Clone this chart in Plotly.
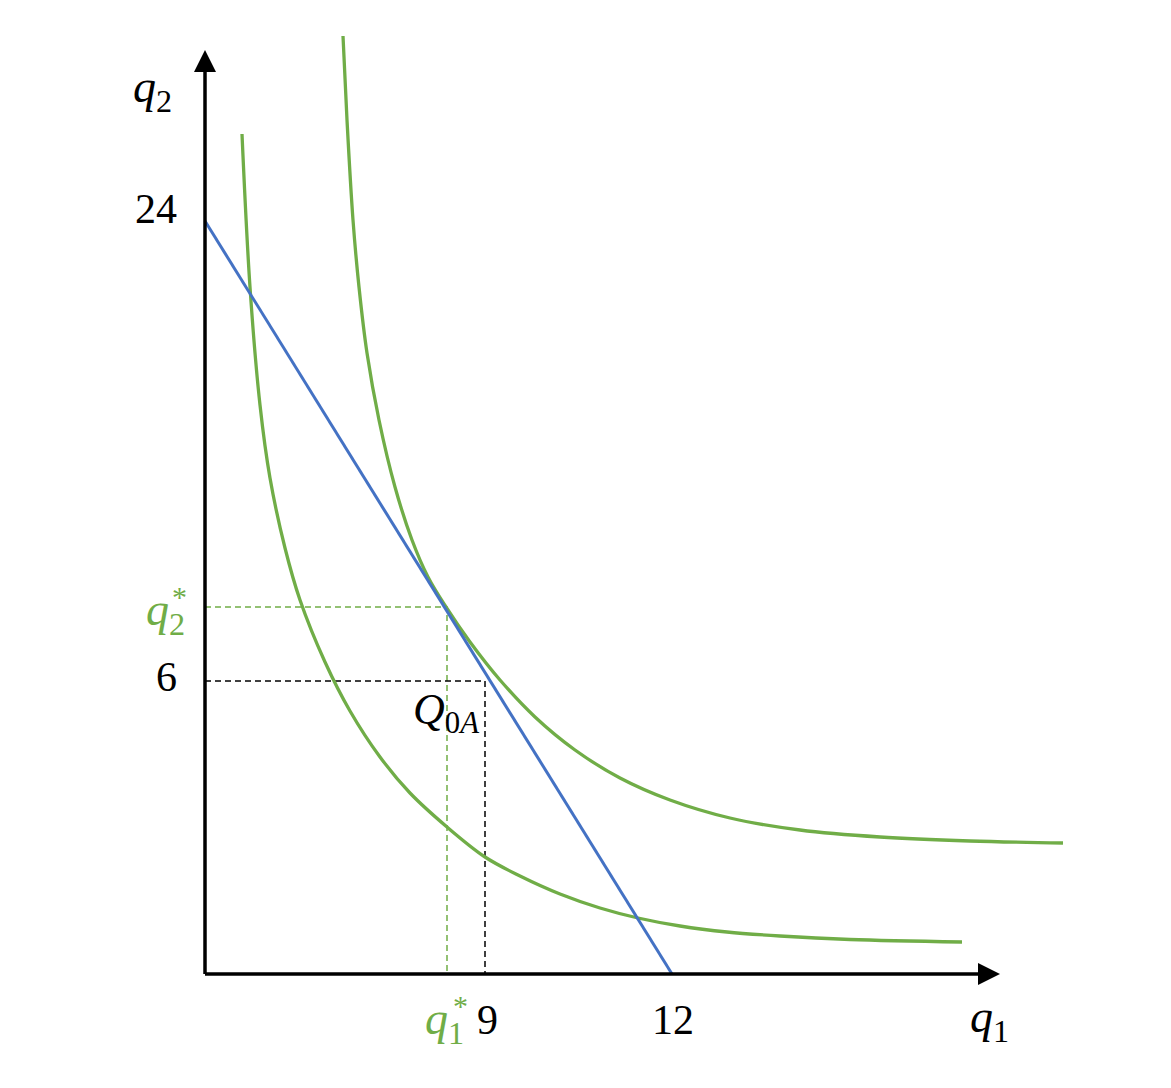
import plotly.graph_objects as go

# ---- data (diagram units: schematic, origin at the axes corner) ----
budget_q1 = [0, 467]
budget_q2 = [753, 0]

inner_q1 = [37, 45, 55, 65, 80, 95, 120, 145, 175, 205, 242, 280, 315, 355, 395, 433, 475, 522, 575, 645, 757]
inner_q2 = [840, 687, 569, 496, 426, 374, 312, 263, 217, 181, 147, 117, 98, 80, 66, 56, 48, 42, 38, 34.5, 32]

outer_q1 = [138, 142, 148, 154, 162, 174, 190, 207, 223, 241, 265, 295, 330, 370, 415, 465, 525, 595, 675, 765, 858]
outer_q2 = [938, 854, 754, 687, 621, 554, 487, 434, 397, 367, 332, 294, 257, 224, 196, 174, 156, 144, 137, 133, 131]

opt_q1, opt_q2 = 242, 367      # tangency point (q1*, q2*)
q0a_q1, q0a_q2 = 280, 293      # Q0A = (9, 6)

x_tick_vals = [280, 467]
x_tick_text = ["9", "12"]
y_tick_vals = [753, 293]
y_tick_text = ["24", "6"]

x_axis_end = 795
y_axis_end = 924

GREEN = "#70AD47"
BLUE = "#4472C4"
FONT = "Liberation Serif"

W, H = 1163, 1080          # page has an 8px body margin
ORIGIN_X, ORIGIN_Y = 197, 966

fig = go.Figure()

# dashed guide lines
fig.add_trace(go.Scatter(x=[0, opt_q1, opt_q1], y=[opt_q2, opt_q2, 0], mode="lines",
                         line=dict(color=GREEN, width=1.5, dash="6px,4px"), hoverinfo="skip"))
fig.add_trace(go.Scatter(x=[0, q0a_q1, q0a_q1], y=[q0a_q2, q0a_q2, 0], mode="lines",
                         line=dict(color="black", width=1.5, dash="6px,4px"), hoverinfo="skip"))

# indifference curves
fig.add_trace(go.Scatter(x=inner_q1, y=inner_q2, mode="lines",
                         line=dict(color=GREEN, width=3.3, shape="spline", smoothing=1.0), hoverinfo="skip"))
fig.add_trace(go.Scatter(x=outer_q1, y=outer_q2, mode="lines",
                         line=dict(color=GREEN, width=3.3, shape="spline", smoothing=1.0), hoverinfo="skip"))
# budget line
fig.add_trace(go.Scatter(x=budget_q1, y=budget_q2, mode="lines",
                         line=dict(color=BLUE, width=3), hoverinfo="skip"))

# axes with arrow heads
head = 22
hw = 11
shapes = [
    dict(type="line", x0=0, y0=0, x1=x_axis_end - head + 2, y1=0, line=dict(color="black", width=3.5)),
    dict(type="line", x0=0, y0=0, x1=0, y1=y_axis_end - head + 2, line=dict(color="black", width=3.5)),
    dict(type="path",
         path=f"M {x_axis_end} 0 L {x_axis_end - head} {hw} L {x_axis_end - head} {-hw} Z",
         fillcolor="black", line=dict(color="black", width=0)),
    dict(type="path",
         path=f"M 0 {y_axis_end} L {-hw} {y_axis_end - head} L {hw} {y_axis_end - head} Z",
         fillcolor="black", line=dict(color="black", width=0)),
]

ann = []
def txt(x, y, text, size=42, color="black", xanchor="center", yanchor="middle"):
    ann.append(dict(x=x, y=y, text=text, showarrow=False, xanchor=xanchor, yanchor=yanchor,
                    font=dict(family=FONT, size=size, color=color)))

for v, t in zip(x_tick_vals, x_tick_text):
    txt(v + (2 if t == "9" else 1), -46, t)
for v, t in zip(y_tick_vals, y_tick_text):
    txt(-26, v + (12 if t == "24" else 4), t, xanchor="right")

# q1*, q2* (green)
txt(opt_q1 - 3, -48, "<i>q</i><sub>1</sub>", size=46, color=GREEN)
txt(opt_q1 + 13, -31, "*", size=30, color=GREEN)
txt(-18, opt_q2 - 6, "<i>q</i><sub>2</sub>", size=46, color=GREEN, xanchor="right")
txt(-26, opt_q2 + 11, "*", size=30, color=GREEN)

# axis titles
txt(-53, 884, "<i>q</i><sub>2</sub>", size=46)
txt(784, -46, "<i>q</i><sub>1</sub>", size=46)

# Q0A label
txt(241, q0a_q2 - 31, "<i>Q</i><sub>0<i>A</i></sub>", size=44)

fig.update_layout(
    width=W, height=H,
    margin=dict(l=0, r=0, t=0, b=0),
    paper_bgcolor="white", plot_bgcolor="white",
    showlegend=False,
    xaxis=dict(range=[-ORIGIN_X, W - ORIGIN_X], visible=False, fixedrange=True),
    yaxis=dict(range=[-(H - ORIGIN_Y), ORIGIN_Y], visible=False, fixedrange=True),
    shapes=shapes,
    annotations=ann,
)

fig.write_html("out.html")
